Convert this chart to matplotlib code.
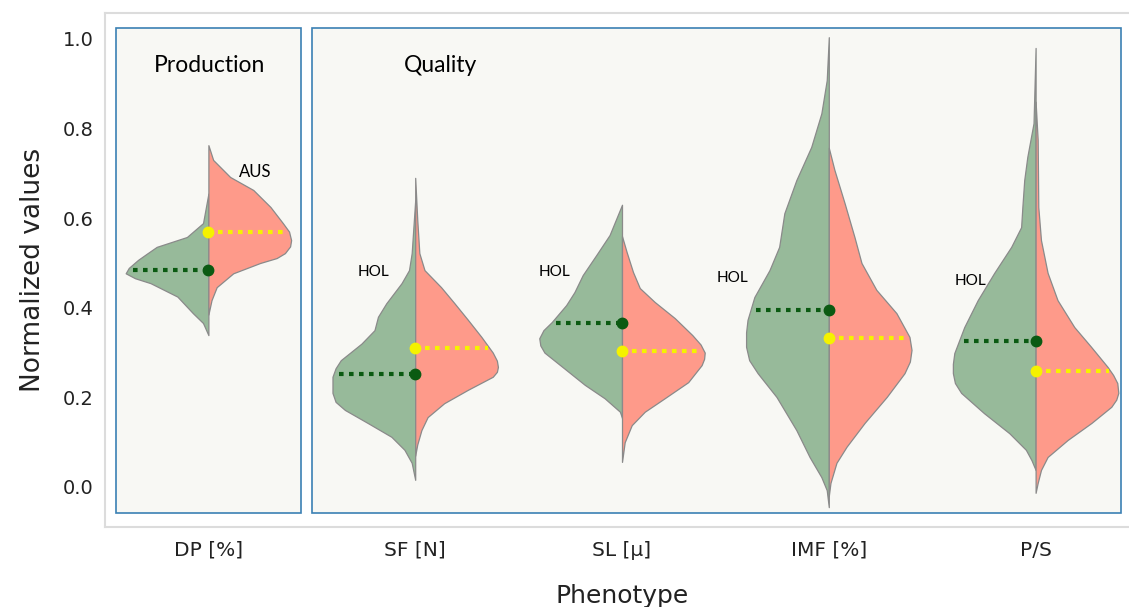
import numpy as np
import matplotlib
matplotlib.use("Agg")
import matplotlib.pyplot as plt
from matplotlib.patches import Rectangle

# categories
phenotypes = ["DP [%]", "SF [N]", "SL [µ]", "IMF [%]", "P/S"]

# half-violin outlines (normalized value, half width)
hol_y = [
    [0.339, 0.366, 0.388, 0.425, 0.455, 0.466, 0.477, 0.489, 0.507, 0.52, 0.536, 0.558, 0.589, 0.655],
    [0.016, 0.054, 0.083, 0.112, 0.143, 0.172, 0.19, 0.21, 0.246, 0.265, 0.283, 0.32, 0.35, 0.38, 0.41, 0.455, 0.484, 0.522, 0.64],
    [0.154, 0.168, 0.198, 0.228, 0.265, 0.30, 0.316, 0.332, 0.35, 0.368, 0.406, 0.435, 0.473, 0.518, 0.5625, 0.63],
    [-0.045, -0.007, 0.022, 0.067, 0.127, 0.201, 0.254, 0.283, 0.313, 0.345, 0.373, 0.424, 0.484, 0.536, 0.611, 0.685, 0.759, 0.834, 0.908, 1.004],
    [0.038, 0.06, 0.083, 0.12, 0.165, 0.21, 0.232, 0.254, 0.275, 0.299, 0.357, 0.417, 0.478, 0.536, 0.58, 0.625, 0.685, 0.737, 0.812, 0.98],
]
hol_w = [
    [0, 0.026, 0.075, 0.15, 0.28, 0.355, 0.40, 0.385, 0.34, 0.30, 0.25, 0.104, 0.026, 0],
    [0, 0.017, 0.052, 0.115, 0.23, 0.34, 0.385, 0.40, 0.40, 0.385, 0.36, 0.26, 0.197, 0.18, 0.14, 0.066, 0.03, 0.017, 0],
    [0, 0.01, 0.084, 0.18, 0.28, 0.375, 0.395, 0.40, 0.38, 0.34, 0.27, 0.23, 0.19, 0.124, 0.06, 0],
    [0, 0.01, 0.036, 0.093, 0.157, 0.253, 0.344, 0.385, 0.40, 0.40, 0.393, 0.36, 0.287, 0.24, 0.215, 0.157, 0.085, 0.036, 0.01, 0],
    [0, 0.02, 0.047, 0.127, 0.25, 0.36, 0.39, 0.40, 0.40, 0.393, 0.345, 0.28, 0.2, 0.118, 0.07, 0.064, 0.055, 0.04, 0.01, 0],
]
aus_y = [
    [0.385, 0.417, 0.446, 0.477, 0.50, 0.511, 0.522, 0.537, 0.551, 0.57, 0.589, 0.625, 0.663, 0.692, 0.730, 0.763],
    [0.07, 0.095, 0.127, 0.156, 0.187, 0.217, 0.246, 0.257, 0.268, 0.282, 0.30, 0.335, 0.373, 0.41, 0.446, 0.484, 0.522, 0.596, 0.69],
    [0.056, 0.10, 0.138, 0.168, 0.198, 0.234, 0.272, 0.286, 0.30, 0.318, 0.339, 0.377, 0.413, 0.444, 0.48, 0.525, 0.56],
    [-0.02, 0.009, 0.054, 0.09, 0.143, 0.201, 0.254, 0.28, 0.306, 0.335, 0.388, 0.44, 0.50, 0.558, 0.634, 0.708, 0.757],
    [-0.013, 0.009, 0.038, 0.067, 0.105, 0.143, 0.179, 0.195, 0.21, 0.232, 0.25, 0.268, 0.313, 0.357, 0.417, 0.478, 0.551, 0.625, 0.775, 0.86],
]
aus_w = [
    [0, 0.015, 0.04, 0.12, 0.25, 0.33, 0.37, 0.395, 0.40, 0.39, 0.36, 0.30, 0.217, 0.105, 0.023, 0],
    [0, 0.01, 0.03, 0.06, 0.14, 0.255, 0.375, 0.395, 0.40, 0.395, 0.375, 0.32, 0.255, 0.19, 0.125, 0.045, 0.02, 0.01, 0],
    [0, 0.013, 0.047, 0.11, 0.206, 0.32, 0.385, 0.397, 0.40, 0.38, 0.34, 0.255, 0.158, 0.086, 0.053, 0.022, 0],
    [0, 0.008, 0.037, 0.086, 0.173, 0.28, 0.366, 0.392, 0.40, 0.39, 0.327, 0.23, 0.158, 0.124, 0.076, 0.027, 0],
    [0, 0.01, 0.026, 0.058, 0.155, 0.27, 0.366, 0.39, 0.40, 0.395, 0.375, 0.348, 0.268, 0.187, 0.106, 0.058, 0.026, 0.013, 0.01, 0],
]

# group means
hol_mean = [0.484, 0.252, 0.366, 0.395, 0.326]
aus_mean = [0.569, 0.311, 0.304, 0.333, 0.259]

green = "#97ba9a"
salmon = "#fe9a8a"
edge = "#8a8a8a"
dark = "#0b5a12"
yellow = "#f5f200"

fig = plt.figure(figsize=(11.29, 6.07), dpi=100)
ax = fig.add_axes([105 / 1129, 80 / 607, 1034 / 1129, 514 / 607])
ax.set_xlim(-0.5, 4.5)
ax.set_ylim(-0.0893, 1.058)

# panel boxes
ax.add_patch(Rectangle((-0.445, -0.058), 0.895, 1.083, facecolor="#f8f8f4",
                       edgecolor="#3b80b4", lw=1.2, zorder=0))
ax.add_patch(Rectangle((0.503, -0.058), 3.911, 1.083, facecolor="#f8f8f4",
                       edgecolor="#3b80b4", lw=1.2, zorder=0))

for i in range(len(phenotypes)):
    hy = np.array(hol_y[i]); hw = np.array(hol_w[i])
    ay = np.array(aus_y[i]); aw = np.array(aus_w[i])
    ax.fill_betweenx(hy, i - hw, i, facecolor=green, edgecolor=edge, lw=0.9,
                     joinstyle="round", zorder=2)
    ax.fill_betweenx(ay, i, i + aw, facecolor=salmon, edgecolor=edge, lw=0.9,
                     joinstyle="round", zorder=2)

    # mean lines + dots
    lh = np.interp(hol_mean[i], hy, hw) * 0.93
    la = np.interp(aus_mean[i], ay, aw) * 0.98
    ax.plot([i - lh, i], [hol_mean[i]] * 2, color=dark, lw=3, dashes=(1.1, 1.3),
            dash_capstyle="butt", zorder=3)
    ax.plot([i, i + la], [aus_mean[i]] * 2, color=yellow, lw=3, dashes=(1.1, 1.3),
            dash_capstyle="butt", zorder=3)
    ax.plot(i, hol_mean[i], "o", color=dark, ms=7.5, zorder=4)
    ax.plot(i, aus_mean[i], "o", color=yellow, ms=7.5, zorder=4)

# annotations
tf = dict(family="Lato", ha="center", va="center")
ax.text(0.005, 0.94, "Production", fontsize=16.5, **tf)
ax.text(1.123, 0.94, "Quality", fontsize=16.5, **tf)
ax.text(0.227, 0.703, "AUS", fontsize=12, **tf)
for hx, hy_ in [(0.80, 0.48), (1.676, 0.48), (2.535, 0.466), (3.685, 0.46)]:
    ax.text(hx, hy_, "HOL", fontsize=11, **tf)

ax.set_xticks(range(len(phenotypes)))
ax.set_xticklabels(phenotypes, fontsize=14.5, color="#222222")
ax.set_yticks([0.0, 0.2, 0.4, 0.6, 0.8, 1.0])
ax.set_yticklabels(["0.0", "0.2", "0.4", "0.6", "0.8", "1.0"], fontsize=14, color="#222222")
ax.tick_params(length=0)
ax.tick_params(axis="x", pad=10)
ax.tick_params(axis="y", pad=8)
ax.set_xlabel("Phenotype", fontsize=18, color="#222222", labelpad=17)
ax.set_ylabel("Normalized values", fontsize=19, color="#222222", labelpad=12)
for s in ax.spines.values():
    s.set_color("#dcdcdc")
    s.set_linewidth(1.5)

fig.savefig("out.png", dpi=100)
